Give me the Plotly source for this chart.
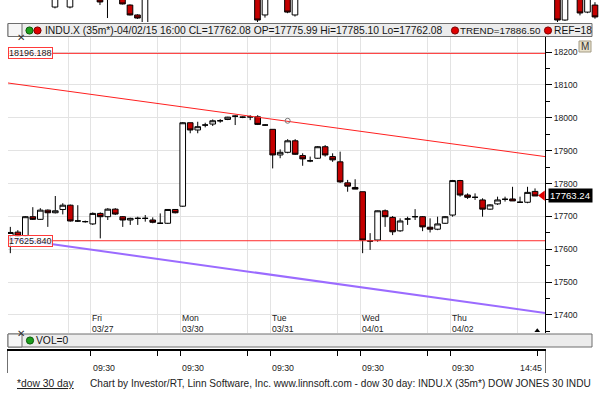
import plotly.graph_objects as go

W, H = 600, 397
def px(x): return x / W
def py(y): return 1 - y / H

FONT = "Liberation Sans"

# ---------------- data (35-minute bars, INDU.X) ----------------
bar_open = [17641, 17652, 17641, 17699, 17691, 17719, 17711, 17721, 17734, 17686,
            17684, 17677, 17709, 17699, 17722, 17699, 17689, 17694, 17694, 17689,
            17679, 17679, 17721, 17731, 17985, 17963, 17978, 17981, 17991, 17995,
            18005, 18002, 18003, 18003, 17978, 17965, 17887, 17895, 17930, 17885,
            17869, 17877, 17912, 17882, 17866, 17802, 17788, 17775, 17625, 17628,
            17717, 17697, 17656, 17692, 17699, 17699, 17667, 17661, 17679, 17704,
            17809, 17765, 17758, 17750, 17722, 17738, 17752, 17753, 17743, 17743,
            17775.99]
bar_high = [17668, 17658, 17701, 17728, 17725, 17721, 17762, 17740, 17736, 17734,
            17687, 17712, 17712, 17725, 17725, 17701, 17696, 17699, 17704, 17697,
            17709, 17722, 17722, 17987, 17985, 17988, 17985, 17995, 17996, 18003,
            18008, 18004, 18008, 18008, 17980, 17965, 17904, 17935, 17935, 17892,
            17882, 17914, 17917, 17892, 17897, 17811, 17813, 17775, 17649, 17718,
            17721, 17701, 17694, 17699, 17722, 17701, 17694, 17699, 17701, 17811,
            17811, 17770, 17770, 17755, 17737, 17760, 17760, 17790, 17760, 17790,
            17785.10]
bar_low = [17588, 17638, 17639, 17689, 17689, 17668, 17709, 17706, 17684, 17683,
           17681, 17674, 17633, 17689, 17704, 17668, 17674, 17674, 17684, 17679,
           17677, 17677, 17709, 17729, 17953, 17953, 17971, 17975, 17985, 17993,
           17978, 17999, 17993, 17978, 17976, 17846, 17877, 17892, 17887, 17854,
           17865, 17875, 17882, 17866, 17802, 17775, 17783, 17588, 17598, 17623,
           17668, 17643, 17653, 17674, 17689, 17655, 17651, 17658, 17677, 17699,
           17760, 17753, 17750, 17699, 17720, 17735, 17745, 17747, 17743, 17740,
           17762.08]
bar_close = [17651, 17640, 17699, 17691, 17719, 17711, 17717, 17734, 17686, 17686,
             17684, 17709, 17699, 17722, 17707, 17689, 17694, 17694, 17694, 17682,
             17679, 17721, 17711, 17985, 17963, 17973, 17978, 17991, 17991, 18002,
             18005, 18002, 18003, 17980, 17978, 17887, 17895, 17930, 17889, 17875,
             17869, 17912, 17887, 17872, 17805, 17792, 17783, 17628, 17625, 17717,
             17699, 17653, 17686, 17692, 17699, 17668, 17661, 17677, 17699, 17809,
             17765, 17758, 17758, 17722, 17735, 17750, 17752, 17747, 17743, 17773,
             17762.08]
bar_index = list(range(len(bar_open)))

day_start = [11, 23, 35, 47, 59]
day_names = ["Fri", "Mon", "Tue", "Wed", "Thu"]
day_dates = ["03/27", "03/30", "03/31", "04/01", "04/02"]
late_bar = [8, 20, 32, 44, 56, 68]          # 14:45 bars

ref_high = 18196.188
ref_low = 17625.840
trend_vals = [18106, 17882]                  # red trend line at left / right edge
channel_vals = [17634, 17406]                # purple channel line at left / right edge
trend_value = 17886.50
trend_anchor = (37, 17991)
last_price_label = 17763.24

y_ticks = [17400, 17500, 17600, 17700, 17800, 17900, 18000, 18100, 18200]
y_minor = [17350, 17450, 17550, 17650, 17750, 17850, 17950, 18050, 18150, 18250]

# upper (other) panel, only its lower edge is visible
up_x = [0, 2, 6, 7, 9, 10, 11, 12, 27, 28, 31, 32, 67, 68, 70, 71, 72]
up_o = [68, 68, 130, 110, 130, 77, 32, -20, 130, 32, 130, 32, 130, 9, 130, 45, 77]
up_h = [140, 140, 140, 140, 140, 80, 35, 140, 140, 140, 140, 140, 140, 140, 140, 140, 90]
up_l = [62, 62, 77, 18, 80, 30, 14, -30, 0, 20, 40, 25, 0, 5, 30, 40, 15]
up_c = [130, 130, 91, 130, 82, 32, 18, 130, 9, 130, 45, 130, 9, 130, 41, 130, 23]

# ---------------- geometry ----------------
x_lo = -0.31
x_hi = 71.33
grid_x = sorted([b - 0.3 for b in day_start] + [b - 0.3 for b in late_bar])
vol_ticks = sorted([b - 0.3 for b in day_start] + [b - 0.3 for b in late_bar[1:-1]] + [bar_index[-1] + 0.3])

fig = go.Figure()

fig.add_trace(go.Candlestick(
    x=bar_index, open=bar_open, high=bar_high, low=bar_low, close=bar_close,
    increasing=dict(line=dict(color="black", width=1), fillcolor="white"),
    decreasing=dict(line=dict(color="black", width=1), fillcolor="#c40000"),
    whiskerwidth=0, hoverinfo="skip", showlegend=False, xaxis="x", yaxis="y"))

for v in (ref_high, ref_low):
    fig.add_trace(go.Scatter(x=[x_lo, x_hi], y=[v, v], mode="lines",
                             line=dict(color="#ff2a2a", width=1),
                             hoverinfo="skip", showlegend=False))
fig.add_trace(go.Scatter(x=[x_lo, x_hi], y=trend_vals, mode="lines",
                         line=dict(color="#ff2020", width=1),
                         hoverinfo="skip", showlegend=False))
fig.add_trace(go.Scatter(x=[x_lo, x_hi], y=channel_vals, mode="lines",
                         line=dict(color="#9b6bff", width=2),
                         hoverinfo="skip", showlegend=False))
fig.add_trace(go.Scatter(x=[trend_anchor[0]], y=[trend_anchor[1]], mode="markers",
                         marker=dict(symbol="circle-open", size=5, color="#777",
                                     line=dict(width=1)),
                         hoverinfo="skip", showlegend=False))
# last price marker on the axis
fig.add_trace(go.Scatter(x=[bar_index[-1] + 1.0], y=[last_price_label], mode="markers",
                         marker=dict(symbol="triangle-left", size=9, color="#e00000"),
                         cliponaxis=False, hoverinfo="skip", showlegend=False))
fig.add_trace(go.Scatter(x=[bar_index[-1] + 0.3], y=[17352], mode="markers",
                         marker=dict(symbol="triangle-up", size=5, color="black"),
                         cliponaxis=False, hoverinfo="skip", showlegend=False))

# upper panel candles
fig.add_trace(go.Candlestick(
    x=up_x, open=up_o, high=up_h, low=up_l, close=up_c,
    increasing=dict(line=dict(color="black", width=1), fillcolor="white"),
    decreasing=dict(line=dict(color="black", width=1), fillcolor="#c40000"),
    whiskerwidth=0, hoverinfo="skip", showlegend=False, xaxis="x3", yaxis="y3"))

# volume panel placeholder
fig.add_trace(go.Scatter(x=[x_lo], y=[-1], mode="markers", marker=dict(size=1, opacity=0),
                         hoverinfo="skip", showlegend=False, xaxis="x2", yaxis="y2"))

shapes = []
ann = []

def bar_header(y0, y1):
    shapes.append(dict(type="rect", xref="paper", yref="paper", x0=px(8), x1=px(592),
                       y0=py(y1), y1=py(y0), fillcolor="#ececec",
                       line=dict(color="#6e6e6e", width=1), layer="above"))
    shapes.append(dict(type="rect", xref="paper", yref="paper", x0=px(8), x1=px(22),
                       y0=py(y1), y1=py(y0), fillcolor="#f6f6f6",
                       line=dict(color="#6e6e6e", width=1), layer="above"))
    ann.append(dict(xref="paper", yref="paper", x=px(15), y=py((y0 + y1) / 2), text="✕",
                    showarrow=False, font=dict(family="DejaVu Sans", size=10, color="#333")))

def dot(cx, cy, fill, edge):
    shapes.append(dict(type="circle", xref="paper", yref="paper", x0=px(cx - 3.6), x1=px(cx + 3.6),
                       y0=py(cy + 3.6), y1=py(cy - 3.6), fillcolor=fill,
                       line=dict(color=edge, width=1), layer="above"))

def txt(x, y, s, size=10.3, color="#151515", anchor="left", **kw):
    ann.append(dict(xref="paper", yref="paper", x=px(x), y=py(y), text=s, showarrow=False,
                    xanchor=anchor, yanchor="middle",
                    font=dict(family=FONT, size=size, color=color), **kw))

# main header
bar_header(23.5, 36.5)
dot(29.5, 30.5, "#1d9e1d", "#0a5a0a")
dot(37.5, 30.5, "#e00000", "#7a0000")
txt(43, 30.5, f"INDU.X (35m*)-04/02/15 16:00 CL={bar_close[-1]:.2f} OP={bar_open[-1]:.2f} "
              f"Hi={bar_high[-1]:.2f} Lo={bar_low[-1]:.2f}")
dot(455, 30.5, "#e00000", "#7a0000")
txt(458, 30.5, f"TREND={trend_value:.2f}", size=9.8)
dot(548, 30.5, "#e00000", "#7a0000")
txt(551.5, 30.5, "REF=18")

# volume header
bar_header(334, 347)
dot(30, 340.5, "#1d9e1d", "#0a5a0a")
txt(34, 340.5, "VOL=0")

# M button
shapes.append(dict(type="rect", xref="paper", yref="paper", x0=px(579), x1=px(591),
                   y0=py(52), y1=py(41), fillcolor="#e9e1cb",
                   line=dict(color="#a39b84", width=1)))
txt(585, 46.5, "M", size=10, color="#333", anchor="center")

# reference line labels
for v in (ref_high, ref_low):
    ann.append(dict(xref="paper", yref="y", x=px(8), y=v, text=f"{v:.3f}", showarrow=False,
                    xanchor="left", yanchor="middle", bgcolor="rgba(255,255,255,0.75)",
                    bordercolor="#ff3a3a", borderwidth=1, borderpad=0,
                    font=dict(family=FONT, size=9, color="#222")))

# last price label
ann.append(dict(xref="paper", yref="y", x=px(548), y=last_price_label,
                text=f"{last_price_label:.2f}", showarrow=False, xanchor="left",
                yanchor="middle", bgcolor="black", borderpad=1,
                font=dict(family=FONT, size=9.6, color="white")))

# day labels inside the main chart
for b, n, d in zip(day_start, day_names, day_dates):
    ann.append(dict(xref="x", yref="paper", x=b, y=py(323.5), text=f"{n}<br>{d}",
                    showarrow=False, xanchor="left", yanchor="middle", align="left",
                    xshift=-3, font=dict(family=FONT, size=8.6, color="#222")))

# time labels in the volume pane
for b in day_start:
    ann.append(dict(xref="x", yref="paper", x=b - 0.3, y=py(367.5), text="09:30",
                    showarrow=False, xanchor="left", yanchor="middle",
                    font=dict(family=FONT, size=8.8, color="#222")))
ann.append(dict(xref="x", yref="paper", x=late_bar[-1] - 0.3, y=py(367.5), text="14:45",
                showarrow=False, xanchor="left", yanchor="middle",
                font=dict(family=FONT, size=8.8, color="#222")))

# footer
txt(15, 383, "<u>*dow 30 day</u>", color="#222")
txt(88, 383, "Chart by Investor/RT, Linn Software, Inc. www.linnsoft.com - dow 30 day: "
             "INDU.X (35m*) DOW JONES 30 INDU", size=10.1, color="#222")

grid_col = "#e3e3e3"
fig.update_layout(
    width=W, height=H, margin=dict(l=0, r=0, t=0, b=0),
    paper_bgcolor="white", plot_bgcolor="white",
    boxgap=0.25, boxgroupgap=0.0,
    showlegend=False, shapes=shapes, annotations=ann,
    xaxis=dict(domain=[px(8), px(545)], range=[x_lo, x_hi], anchor="y",
               tickvals=grid_x, showticklabels=False, ticks="", showgrid=True,
               gridcolor=grid_col, gridwidth=1, zeroline=False, showline=False,
               rangeslider=dict(visible=False), fixedrange=True),
    yaxis=dict(domain=[py(333), py(37)], range=[17345, 18246], anchor="x", side="right",
               tickvals=y_ticks, ticktext=[str(v) for v in y_ticks],
               showgrid=True, gridcolor=grid_col, gridwidth=1, zeroline=False,
               ticks="outside", ticklen=6, tickcolor="black", tickwidth=1,
               showline=True, linecolor="black", linewidth=1,
               tickfont=dict(family=FONT, size=8.6, color="#222"),
               minor=dict(tickvals=y_minor, ticks="outside", ticklen=4,
                          tickcolor="black", showgrid=False)),
    xaxis2=dict(domain=[px(8), px(545)], range=[x_lo, x_hi], anchor="y2", side="top",
                tickvals=vol_ticks, showticklabels=False, ticks="inside", ticklen=5,
                tickcolor="black", showgrid=False, zeroline=False, showline=True,
                linecolor="black", linewidth=2),
    yaxis2=dict(domain=[py(373), py(351)], range=[0, 1], anchor="x2", showline=True,
                mirror=True, linecolor="#707070", linewidth=1, showticklabels=False,
                ticks="", showgrid=False, zeroline=False),
    xaxis3=dict(domain=[0, 1], range=[-7.33, 72.67], anchor="y3", visible=False,
                rangeslider=dict(visible=False)),
    yaxis3=dict(domain=[py(22), 1], range=[0, 100], anchor="x3", visible=False),
)

fig.write_html("out.html", config={"displayModeBar": False, "staticPlot": True})

# remove the default page margin so the figure sits at the window's top-left corner
with open("out.html", "r", encoding="utf-8") as f:
    page = f.read()
page = page.replace("<head>", "<head><style>html,body{margin:0;padding:0;overflow:hidden;}</style>", 1)
with open("out.html", "w", encoding="utf-8") as f:
    f.write(page)
